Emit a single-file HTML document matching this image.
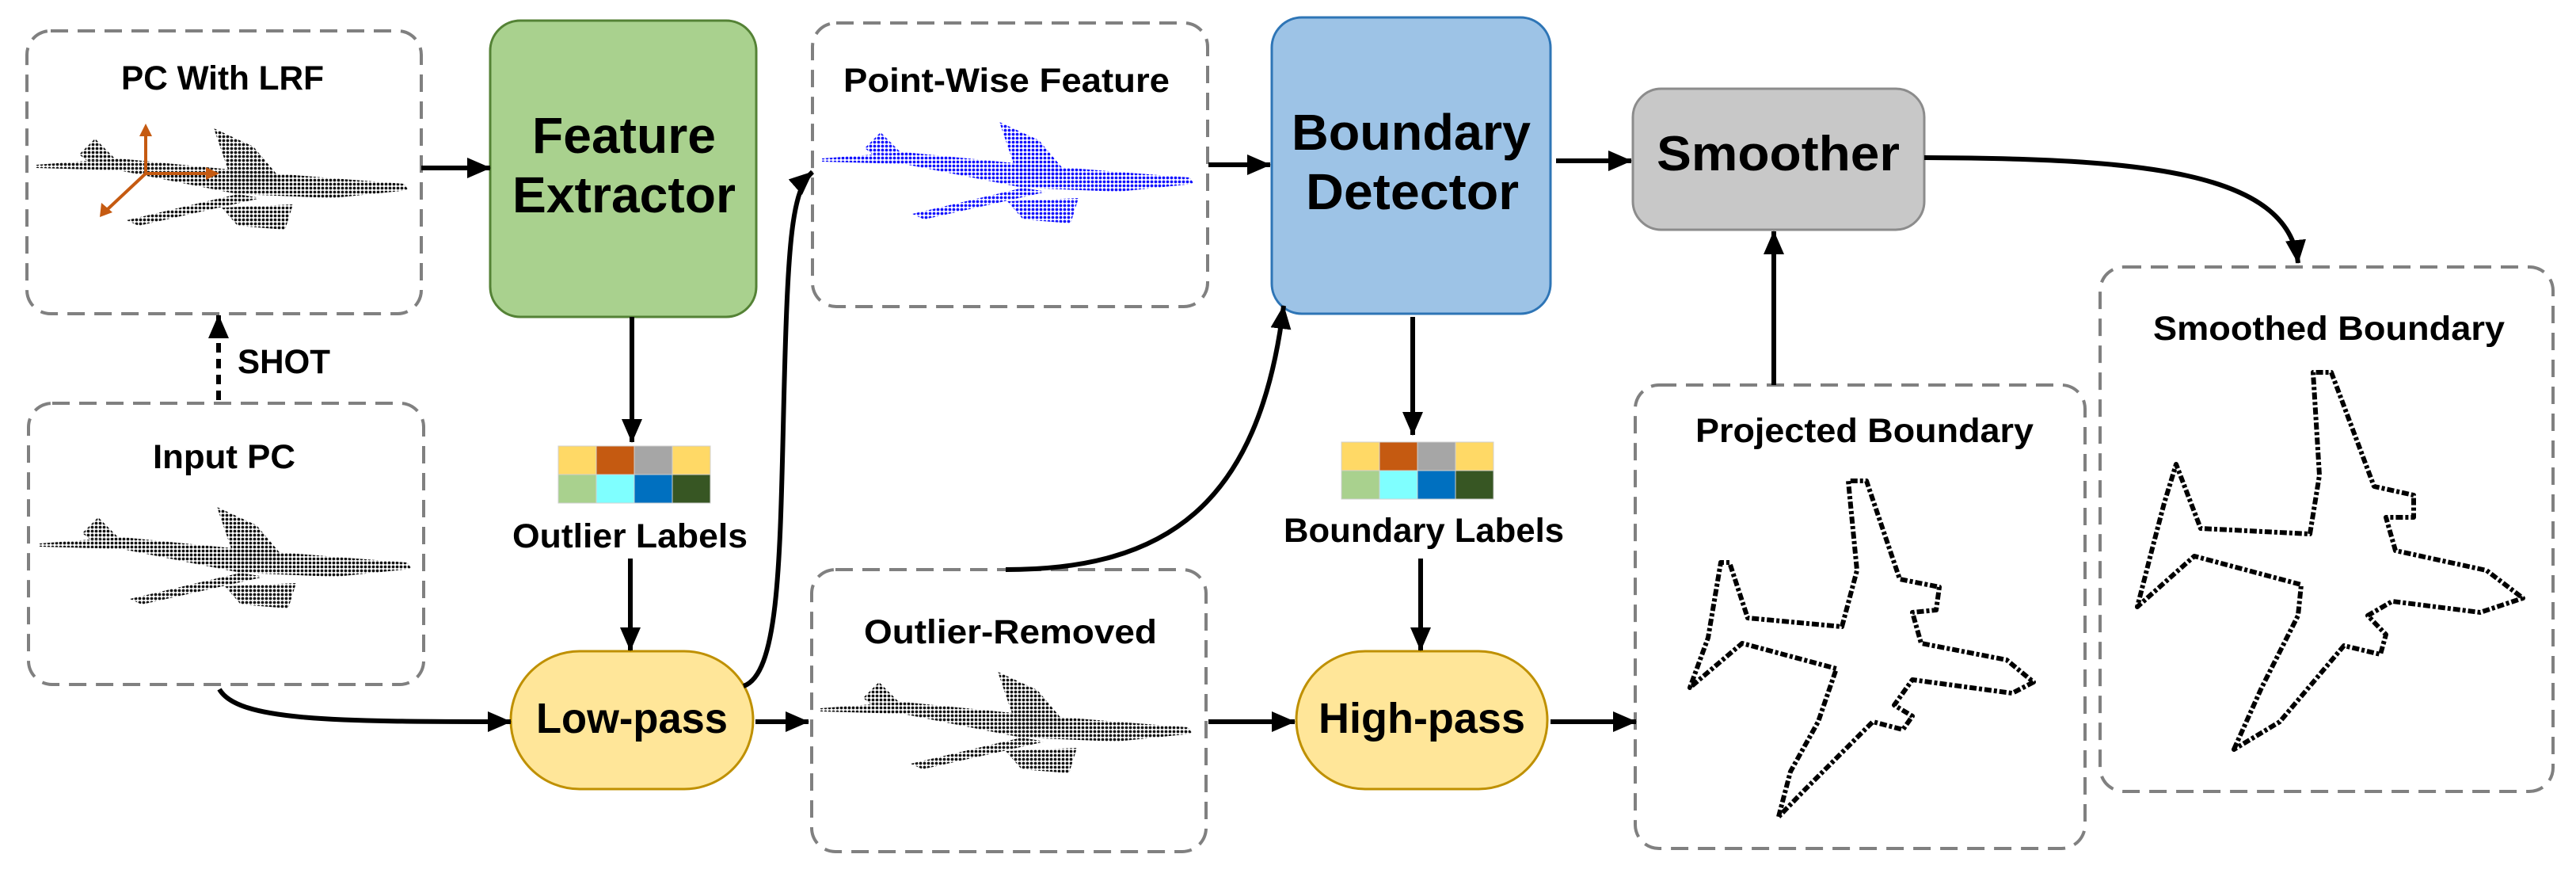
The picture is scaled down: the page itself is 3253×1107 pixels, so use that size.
<!DOCTYPE html>
<html><head><meta charset="utf-8"><style>
html,body{margin:0;padding:0;background:#fff;}
svg{display:block;font-family:"Liberation Sans",sans-serif;font-weight:bold;}
</style></head><body>
<svg width="3253" height="1107" viewBox="0 0 3253 1107" xmlns="http://www.w3.org/2000/svg">
<defs>
<marker id="a" viewBox="0 0 30 26" refX="29" refY="13" markerWidth="30" markerHeight="26" markerUnits="userSpaceOnUse" orient="auto"><path d="M0,0 L30,13 L0,26 Z" fill="#000"/></marker>
<pattern id="dk" width="5" height="5" patternUnits="userSpaceOnUse"><circle cx="2.5" cy="2.5" r="1.9" fill="#111"/></pattern>
<pattern id="bl" width="5" height="5" patternUnits="userSpaceOnUse"><circle cx="2.5" cy="2.5" r="1.9" fill="#1010ff"/></pattern>
<g id="plane">
<polygon points="46,208 150,200 300,215 420,225 510,232 516,240 420,250 300,245 150,215 46,212"/>
<polygon points="100,195 120,175 145,200 110,203"/>
<polygon points="270,162 320,185 358,230 295,235"/>
<polygon points="160,278 300,245 330,250 175,285"/>
<polygon points="280,262 370,258 360,290 300,285"/>
</g>
</defs>

<g fill="none" stroke="#808080" stroke-width="4" stroke-dasharray="22 12">
<rect x="34" y="39" width="498" height="357" rx="30"/>
<rect x="36" y="509" width="499" height="355" rx="30"/>
<rect x="1026" y="29" width="499" height="358" rx="30"/>
<rect x="1025" y="719" width="498" height="356" rx="30"/>
<rect x="2065" y="486" width="568" height="585" rx="30"/>
<rect x="2652" y="337" width="572" height="662" rx="30"/>
</g>

<rect x="619" y="26" width="336" height="374" rx="38" fill="#a9d18e" stroke="#548235" stroke-width="3"/>
<rect x="1606" y="22" width="352" height="374" rx="38" fill="#9dc3e6" stroke="#2e75b6" stroke-width="3"/>
<rect x="2062" y="112" width="368" height="178" rx="36" fill="#c8c8c8" stroke="#8c8c8c" stroke-width="3"/>
<rect x="645" y="822" width="306" height="174" rx="87" fill="#ffe699" stroke="#bf9000" stroke-width="3"/>
<rect x="1637" y="822" width="317" height="174" rx="87" fill="#ffe699" stroke="#bf9000" stroke-width="3"/>

<use href="#plane" fill="url(#dk)"/>
<use href="#plane" fill="url(#dk)" transform="translate(4,478)"/>
<use href="#plane" fill="url(#bl)" transform="translate(992,-8)"/>
<use href="#plane" fill="url(#dk)" transform="translate(990,686)"/>

<g stroke="#c55a11" stroke-width="4" fill="#c55a11">
<line x1="184" y1="219" x2="184" y2="170"/><polygon points="176,172 184,156 192,172" stroke="none"/>
<line x1="184" y1="219" x2="262" y2="219"/><polygon points="260,211 277,219 260,227" stroke="none"/>
<line x1="184" y1="219" x2="136" y2="264"/><polygon points="128,256 126,274 142,268" stroke="none"/>
</g>

<g fill="none" stroke="#000" stroke-width="6" stroke-dasharray="9 3 4 3" stroke-linejoin="round">
<polygon points="2246,1031 2261,974 2296,911 2319,844 2200,812 2134,868 2157,805 2173,710 2184,710 2207,780 2326,791 2345,720 2334,607 2357,607 2399,731 2449,741 2445,770 2415,773 2426,812 2534,833 2568,861 2541,875 2415,858 2392,890 2415,904 2403,921 2365,911 2280,996"/>
<polygon points="2821,946 2856,868 2902,777 2906,738 2771,702 2699,766 2718,692 2733,635 2748,586 2779,667 2917,674 2929,600 2921,470 2944,470 2998,614 3048,625 3048,653 3013,653 3025,695 3140,720 3186,755 3132,773 3021,759 2990,777 3013,801 3006,826 2960,815 2879,911"/>
</g>

<g stroke="#d0d0d0" stroke-width="1">
<rect x="705" y="563" width="48" height="36" fill="#ffd966"/><rect x="753" y="563" width="48" height="36" fill="#c55a11"/><rect x="801" y="563" width="48" height="36" fill="#a6a6a6"/><rect x="849" y="563" width="48" height="36" fill="#ffd966"/>
<rect x="705" y="599" width="48" height="36" fill="#a9d18e"/><rect x="753" y="599" width="48" height="36" fill="#7fffff"/><rect x="801" y="599" width="48" height="36" fill="#0070c0"/><rect x="849" y="599" width="48" height="36" fill="#375623"/>
<rect x="1694" y="558" width="48" height="36" fill="#ffd966"/><rect x="1742" y="558" width="48" height="36" fill="#c55a11"/><rect x="1790" y="558" width="48" height="36" fill="#a6a6a6"/><rect x="1838" y="558" width="48" height="36" fill="#ffd966"/>
<rect x="1694" y="594" width="48" height="36" fill="#a9d18e"/><rect x="1742" y="594" width="48" height="36" fill="#7fffff"/><rect x="1790" y="594" width="48" height="36" fill="#0070c0"/><rect x="1838" y="594" width="48" height="36" fill="#375623"/>
</g>

<g fill="none" stroke="#000" stroke-width="6" marker-end="url(#a)">
<line x1="532" y1="212" x2="619" y2="212"/>
<line x1="276" y1="505" x2="276" y2="398" stroke-dasharray="12 8"/>
<line x1="798" y1="400" x2="798" y2="558"/>
<line x1="796" y1="705" x2="796" y2="821"/>
<path d="M277,870 C300,910 420,911 645,911"/>
<path d="M939,866 C985,850 985,700 990,500 C995,300 1000,240 1026,217"/>
<line x1="954" y1="911" x2="1021" y2="911"/>
<line x1="1526" y1="208" x2="1604" y2="208"/>
<line x1="1965" y1="203" x2="2060" y2="203"/>
<line x1="1784" y1="400" x2="1784" y2="549"/>
<line x1="1794" y1="705" x2="1794" y2="821"/>
<path d="M1270,719 C1470,719 1590,640 1621,386"/>
<line x1="1526" y1="911" x2="1635" y2="911"/>
<line x1="1958" y1="911" x2="2066" y2="911"/>
<line x1="2240" y1="486" x2="2240" y2="292"/>
<path d="M2430,199 C2700,200 2890,215 2902,332"/>
</g>

<g fill="#000">
<text x="153" y="113" font-size="43" textLength="256" lengthAdjust="spacingAndGlyphs">PC With LRF</text>
<text x="300" y="471" font-size="43" textLength="117" lengthAdjust="spacingAndGlyphs">SHOT</text>
<text x="193" y="591" font-size="43" textLength="180" lengthAdjust="spacingAndGlyphs">Input PC</text>
<text x="672" y="193" font-size="64" textLength="232" lengthAdjust="spacingAndGlyphs">Feature</text>
<text x="647" y="268" font-size="64" textLength="282" lengthAdjust="spacingAndGlyphs">Extractor</text>
<text x="647" y="691" font-size="43" textLength="297" lengthAdjust="spacingAndGlyphs">Outlier Labels</text>
<text x="677" y="925" font-size="54" textLength="242" lengthAdjust="spacingAndGlyphs">Low-pass</text>
<text x="1065" y="116" font-size="43" textLength="412" lengthAdjust="spacingAndGlyphs">Point-Wise Feature</text>
<text x="1631" y="189" font-size="64" textLength="302" lengthAdjust="spacingAndGlyphs">Boundary</text>
<text x="1649" y="264" font-size="64" textLength="269" lengthAdjust="spacingAndGlyphs">Detector</text>
<text x="1621" y="684" font-size="43" textLength="354" lengthAdjust="spacingAndGlyphs">Boundary Labels</text>
<text x="1091" y="812" font-size="43" textLength="370" lengthAdjust="spacingAndGlyphs">Outlier-Removed</text>
<text x="1665" y="925" font-size="54" textLength="261" lengthAdjust="spacingAndGlyphs">High-pass</text>
<text x="2092" y="215" font-size="62" textLength="307" lengthAdjust="spacingAndGlyphs">Smoother</text>
<text x="2141" y="558" font-size="43" textLength="427" lengthAdjust="spacingAndGlyphs">Projected Boundary</text>
<text x="2719" y="429" font-size="43" textLength="444" lengthAdjust="spacingAndGlyphs">Smoothed Boundary</text>
</g>
</svg>
</body></html>
